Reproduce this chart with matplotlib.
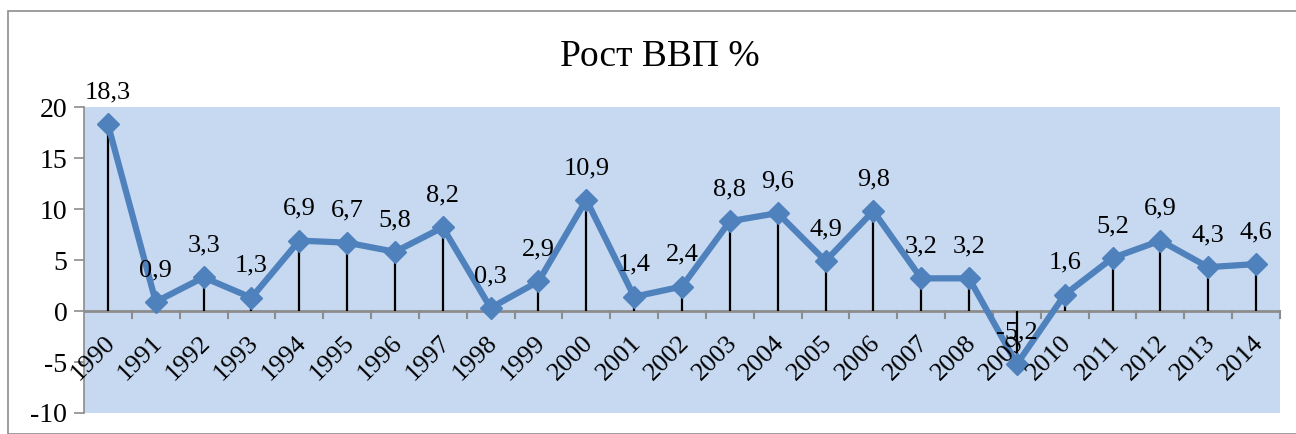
import matplotlib.pyplot as plt
from matplotlib.patches import Rectangle

# ===== data =====
years = [str(y) for y in range(1990, 2015)]
growth = [18.3, 0.9, 3.3, 1.3, 6.9, 6.7, 5.8, 8.2, 0.3, 2.9, 10.9, 1.4, 2.4,
          8.8, 9.6, 4.9, 9.8, 3.2, 3.2, -5.2, 1.6, 5.2, 6.9, 4.3, 4.6]
yticks = [-10, -5, 0, 5, 10, 15, 20]

plt.rcParams['font.family'] = ['Liberation Serif', 'DejaVu Serif']

W, H = 1296, 434
fig = plt.figure(figsize=(W / 100, H / 100), dpi=100)

# outer chart border
fig.patches.append(Rectangle((8 / W, 0), 1.2, 1 - 11 / H, transform=fig.transFigure,
                             fill=False, edgecolor='#8c8c8c', lw=1.2))

ax = fig.add_axes([84 / W, 1 - 413 / H, (1280 - 84) / W, (413 - 107) / H])
ax.set_facecolor('#c6d9f1')

x = list(range(len(years)))
ax.set_xlim(-0.5, len(years) - 0.5)
ax.set_ylim(-10, 20)

# drop lines
ax.vlines(x, 0, growth, color='black', lw=1.6, zorder=2)
ax.plot(x, growth, color='#4f81bd', lw=4.5, marker='D', ms=11, zorder=3)

for xi, v in zip(x, growth):
    lbl = f"{v:.1f}".replace('.', ',')
    ax.annotate(lbl, (xi, v), xytext=(0, 15), textcoords='offset points',
                ha='center', va='bottom', fontsize=19)

for s in ['top', 'right', 'bottom']:
    ax.spines[s].set_visible(False)
ax.spines['left'].set_color('#8c8c8c')
ax.spines['left'].set_linewidth(1.2)
ax.axhline(0, color='#8c8c8c', lw=2, zorder=1)

# category boundary ticks below x axis
for b in range(1, len(years) + 1):
    ax.plot([b - 0.5, b - 0.5], [0, -0.7], color='#8c8c8c', lw=1.5, zorder=1, clip_on=False)

ax.set_yticks(yticks)
ax.set_yticklabels([str(t) for t in yticks], fontsize=20)
ax.tick_params(axis='y', length=7, color='#8c8c8c', width=1.2, pad=5)
ax.set_xticks([])

for xi, yr in zip(x, years):
    ax.annotate(yr, (xi, 0), xytext=(-3, -15), textcoords='offset points',
                rotation=45, ha='right', va='top', fontsize=19,
                rotation_mode='anchor')

fig.text(660 / W, 1 - 57 / H, 'Рост ВВП %', ha='center', va='center', fontsize=27)

fig.savefig('out.png', dpi=100)
